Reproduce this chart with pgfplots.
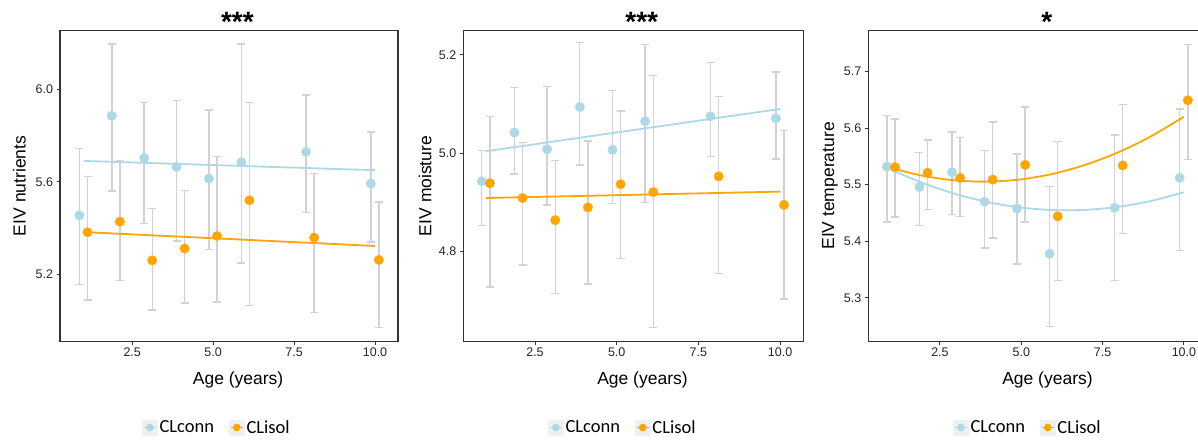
\documentclass[border=0pt]{standalone}
\usepackage{fontspec}
\setmainfont{Liberation Sans}
\newfontfamily\legfont{Carlito}
\usepackage{pgfplots}
\usepackage{pgfplotstable}
\pgfplotsset{compat=1.18}
\definecolor{lb}{HTML}{ADD8E6}
\definecolor{og}{HTML}{FFA500}
\definecolor{errc}{HTML}{D2D2D2}
\definecolor{axc}{HTML}{333333}
\definecolor{keybg}{HTML}{F0F0F0}

% x y lo hi
\pgfplotstableread{
x y lo hi
0.87 5.455 5.157 5.743
1.87 5.885 5.560 6.195
2.87 5.703 5.420 5.942
3.87 5.664 5.344 5.952
4.87 5.614 5.308 5.909
5.87 5.684 5.249 6.195
7.87 5.729 5.468 5.974
9.87 5.592 5.340 5.814
}\nutA
\pgfplotstableread{
x y lo hi
1.12 5.382 5.090 5.624
2.12 5.428 5.174 5.693
3.12 5.261 5.047 5.485
4.12 5.312 5.076 5.562
5.12 5.366 5.082 5.709
6.12 5.520 5.066 5.942
8.12 5.359 5.037 5.637
10.12 5.263 4.971 5.513
}\nutB
\pgfplotstableread{
x y lo hi
0.87 4.943 4.853 5.006
1.87 5.042 4.958 5.133
2.87 5.008 4.895 5.135
3.87 5.094 4.976 5.225
4.87 5.007 4.898 5.128
5.87 5.065 4.900 5.221
7.87 5.075 4.993 5.184
9.87 5.071 4.988 5.165
}\moiA
\pgfplotstableread{
x y lo hi
1.12 4.939 4.728 5.075
2.12 4.909 4.773 5.022
3.12 4.864 4.715 4.985
4.12 4.890 4.734 5.025
5.12 4.937 4.786 5.086
6.12 4.921 4.646 5.158
8.12 4.953 4.756 5.115
10.12 4.895 4.704 5.046
}\moiB
\pgfplotstableread{
x y lo hi
0.87 5.532 5.434 5.622
1.87 5.496 5.428 5.557
2.87 5.522 5.447 5.593
3.87 5.470 5.388 5.560
4.87 5.458 5.360 5.554
5.87 5.378 5.249 5.497
7.87 5.459 5.331 5.588
9.87 5.512 5.384 5.634
}\temA
\pgfplotstableread{
x y lo hi
1.12 5.531 5.443 5.616
2.12 5.521 5.456 5.579
3.12 5.512 5.444 5.583
4.12 5.509 5.406 5.611
5.12 5.535 5.434 5.637
6.12 5.444 5.331 5.576
8.12 5.534 5.414 5.642
10.12 5.649 5.544 5.748
}\temB

\pgfplotsset{
  panel/.style={
    scale only axis, width=339pt, height=310.5pt, anchor=north west,
    axis line style={axc, line width=1.1pt},
    tick style={axc, line width=1pt}, major tick length=3.5pt,
    tick align=outside, tick pos=left,
    xtick={2.5,5,7.5,10}, xticklabels={2.5,5.0,7.5,10.0},
    ticklabel style={font=\fontsize{12.5}{14}\selectfont, text=black!85},
    /pgf/number format/assume math mode=true,
    yticklabel style={/pgf/number format/.cd, fixed, fixed zerofill, precision=1},
    xlabel={Age (years)},
    label style={font=\fontsize{17.5}{20}\selectfont},
    xlabel style={at={(axis description cs:0.527,-0.126)}, anchor=center},
    title style={at={(axis description cs:0.525,1)}, anchor=center, yshift=3pt, font=\bfseries\fontsize{28}{30}\selectfont},
    legend columns=2, legend cell align=left,
    legend style={draw=none, fill=none, inner sep=0pt, anchor=west,
      font=\legfont\fontsize{18.5}{20}\selectfont,
      /tikz/every even column/.append style={column sep=13pt}},
  },
  errs/.style={forget plot, draw=none, mark=none,
    error bars/.cd, y dir=both, y explicit,
    error bar style={draw=errc, line width=1.4pt, solid},
    error mark options={rotate=90, draw=errc, line width=1.4pt, mark size=4pt}},
  bpts/.style={only marks, mark=*, mark size=4.7pt, color=lb,
    legend image code/.code={\fill[keybg] (0pt,-7.5pt) rectangle (15pt,7.5pt);
      \draw[lb, line width=1.8pt] (1.5pt,0pt) -- (13.5pt,0pt);
      \fill[lb] (7.5pt,0pt) circle (3.6pt);}},
  opts/.style={only marks, mark=*, mark size=4.7pt, color=og,
    legend image code/.code={\fill[keybg] (0pt,-7.5pt) rectangle (15pt,7.5pt);
      \draw[og, line width=1.8pt] (1.5pt,0pt) -- (13.5pt,0pt);
      \fill[og] (7.5pt,0pt) circle (3.6pt);}},
}

\begin{document}
\begin{tikzpicture}
\useasboundingbox (0,0) rectangle (1198pt,442pt);
\clip (0,0) rectangle (1198pt,442pt);

% Panel 1
\begin{axis}[panel, at={(60pt,411.3pt)}, width=338pt,
  xmin=0.27, xmax=10.71, ymin=4.912, ymax=6.252,
  ytick={5.2,5.6,6.0}, ylabel={EIV nutrients},
  ylabel style={at={(axis description cs:-0.1204,0.5)}, anchor=center},
  title={***},
  legend style={at={(axis description cs:0.2426,-0.278)}}]
\addplot[errs] table[x=x, y=y, y error plus expr=\thisrow{hi}-\thisrow{y}, y error minus expr=\thisrow{y}-\thisrow{lo}] {\nutA};
\addplot[errs] table[x=x, y=y, y error plus expr=\thisrow{hi}-\thisrow{y}, y error minus expr=\thisrow{y}-\thisrow{lo}] {\nutB};
\addplot[forget plot, lb, line width=1.8pt] coordinates {(1,5.690) (10,5.650)};
\addplot[forget plot, og, line width=1.8pt] coordinates {(1,5.383) (10,5.323)};
\addplot[bpts] table[x=x,y=y] {\nutA};
\addplot[opts] table[x=x,y=y] {\nutB};
\legend{CLconn, CLisol}
\end{axis}

% Panel 2
\begin{axis}[panel, at={(463.3pt,411.3pt)}, width=340pt,
  xmin=0.306, xmax=10.71, ymin=4.618, ymax=5.249,
  ytick={4.8,5.0,5.2}, ylabel={EIV moisture},
  ylabel style={at={(axis description cs:-0.1126,0.5)}, anchor=center},
  title={***},
  legend style={at={(axis description cs:0.249,-0.278)}}]
\addplot[errs] table[x=x, y=y, y error plus expr=\thisrow{hi}-\thisrow{y}, y error minus expr=\thisrow{y}-\thisrow{lo}] {\moiA};
\addplot[errs] table[x=x, y=y, y error plus expr=\thisrow{hi}-\thisrow{y}, y error minus expr=\thisrow{y}-\thisrow{lo}] {\moiB};
\addplot[forget plot, lb, line width=1.8pt] coordinates {(1,5.004) (10,5.090)};
\addplot[forget plot, og, line width=1.8pt] coordinates {(1,4.909) (10,4.922)};
\addplot[bpts] table[x=x,y=y] {\moiA};
\addplot[opts] table[x=x,y=y] {\moiB};
\legend{CLconn, CLisol}
\end{axis}

% Panel 3
\begin{axis}[panel, at={(868.3pt,411.3pt)}, width=340pt,
  xmin=0.297, xmax=10.75, ymin=5.2235, ymax=5.772,
  ytick={5.3,5.4,5.5,5.6,5.7}, ylabel={EIV temperature},
  ylabel style={at={(axis description cs:-0.1126,0.5)}, anchor=center},
  title={*},
  legend style={at={(axis description cs:0.249,-0.278)}}]
\addplot[errs] table[x=x, y=y, y error plus expr=\thisrow{hi}-\thisrow{y}, y error minus expr=\thisrow{y}-\thisrow{lo}] {\temA};
\addplot[errs] table[x=x, y=y, y error plus expr=\thisrow{hi}-\thisrow{y}, y error minus expr=\thisrow{y}-\thisrow{lo}] {\temB};
\addplot[forget plot, lb, line width=1.8pt, smooth] coordinates {
(1,5.5265) (2,5.5023) (3,5.4831) (4,5.4689) (5,5.4595) (6,5.4551) (7,5.4556) (8,5.4610) (9,5.4714) (10,5.4866)};
\addplot[forget plot, og, line width=1.8pt, smooth] coordinates {
(1,5.5294) (2,5.5154) (3,5.5074) (4,5.5054) (5,5.5094) (6,5.5195) (7,5.5356) (8,5.5576) (9,5.5858) (10,5.6200)};
\addplot[bpts] table[x=x,y=y] {\temA};
\addplot[opts] table[x=x,y=y] {\temB};
\legend{CLconn, CLisol}
\end{axis}
\end{tikzpicture}
\end{document}
